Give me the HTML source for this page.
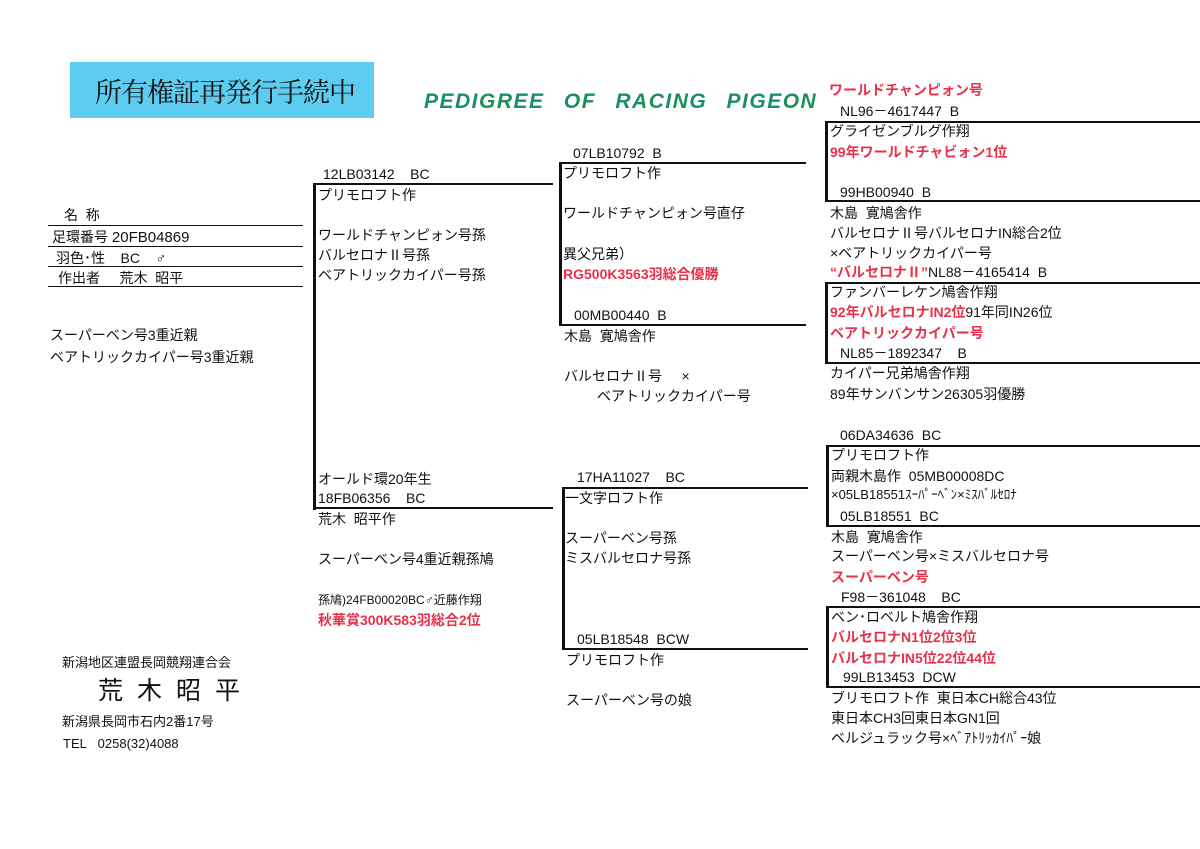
<!DOCTYPE html>
<html><head><meta charset="utf-8"><style>
body{margin:0;width:1200px;height:849px;background:#fff;position:relative;overflow:hidden;font-family:"Liberation Sans","Noto Sans CJK JP",sans-serif;color:#111;}
.t{position:absolute;font-size:14px;line-height:20px;white-space:nowrap;}
.r{color:#e8304a;font-weight:bold;}
.h{position:absolute;background:#111;height:2px;}
.v{position:absolute;background:#111;width:3px;}
.s{font-size:12px;}
</style></head><body>
<div style="position:absolute;left:70px;top:62px;width:304px;height:56px;background:#5ccdf0;"></div>
<div class="t" style="left:95px;top:73px;font-size:27px;line-height:36px;font-family:'Noto Serif CJK SC',serif;letter-spacing:-1px;">所有権証再発行手続中</div>
<div class="t" style="left:424px;top:90px;font-size:21px;line-height:24px;color:#1a9060;font-weight:bold;font-style:italic;letter-spacing:1.5px;word-spacing:12px;">PEDIGREE OF RACING PIGEON</div>

<div class="t" style="left:64px;top:205px;">名&nbsp;&nbsp;称</div>
<div class="h" style="left:48px;top:225px;width:255px;height:1px;"></div>
<div class="t" style="left:52px;top:227px;">足環番号 <span style="font-size:15px">20FB04869</span></div>
<div class="h" style="left:48px;top:246px;width:255px;height:1px;"></div>
<div class="t" style="left:56px;top:248px;">羽色･性&nbsp;&nbsp;&nbsp;&nbsp;BC&nbsp;&nbsp;&nbsp;&nbsp;♂</div>
<div class="h" style="left:48px;top:266px;width:255px;height:1px;"></div>
<div class="t" style="left:58px;top:268px;">作出者&nbsp;&nbsp;&nbsp;&nbsp;&nbsp;荒木&nbsp;&nbsp;昭平</div>
<div class="h" style="left:48px;top:286px;width:255px;height:1px;"></div>
<div class="t" style="left:50px;top:325px;">スーパーベン号3重近親</div>
<div class="t" style="left:50px;top:347px;">ベアトリックカイパー号3重近親</div>

<!-- gen1 -->
<div class="v" style="left:313px;top:183px;height:327px;"></div>
<div class="h" style="left:313px;top:183px;width:240px;"></div>
<div class="h" style="left:313px;top:507px;width:240px;"></div>
<div class="t" style="left:323px;top:164px;">12LB03142&nbsp;&nbsp;&nbsp;&nbsp;BC</div>
<div class="t" style="left:318px;top:185px;">プリモロフト作</div>
<div class="t" style="left:318px;top:225px;">ワールドチャンピォン号孫</div>
<div class="t" style="left:318px;top:245px;">バルセロナⅡ号孫</div>
<div class="t" style="left:318px;top:265px;">ベアトリックカイパー号孫</div>
<div class="t" style="left:318px;top:469px;">オールド環20年生</div>
<div class="t" style="left:318px;top:488px;">18FB06356&nbsp;&nbsp;&nbsp;&nbsp;BC</div>
<div class="t" style="left:318px;top:509px;">荒木&nbsp;&nbsp;昭平作</div>
<div class="t" style="left:318px;top:549px;">スーパーベン号4重近親孫鳩</div>
<div class="t s" style="left:318px;top:590px;">孫鳩)24FB00020BC♂近藤作翔</div>
<div class="t r" style="left:318px;top:610px;">秋華賞300K583羽総合2位</div>

<!-- gen2 top -->
<div class="v" style="left:559px;top:162px;height:164px;"></div>
<div class="h" style="left:559px;top:162px;width:247px;"></div>
<div class="h" style="left:559px;top:324px;width:247px;"></div>
<div class="t" style="left:573px;top:143px;">07LB10792&nbsp;&nbsp;B</div>
<div class="t" style="left:563px;top:163px;">プリモロフト作</div>
<div class="t" style="left:563px;top:203px;">ワールドチャンピォン号直仔</div>
<div class="t" style="left:563px;top:244px;">異父兄弟）</div>
<div class="t r" style="left:563px;top:264px;">RG500K3563羽総合優勝</div>
<div class="t" style="left:574px;top:305px;">00MB00440&nbsp;&nbsp;B</div>
<div class="t" style="left:564px;top:326px;">木島&nbsp;&nbsp;寛鳩舎作</div>
<div class="t" style="left:564px;top:366px;">バルセロナⅡ号&nbsp;&nbsp;&nbsp;&nbsp;&nbsp;×</div>
<div class="t" style="left:597px;top:386px;">ベアトリックカイパー号</div>

<!-- gen2 bottom -->
<div class="v" style="left:562px;top:487px;height:163px;"></div>
<div class="h" style="left:562px;top:487px;width:246px;"></div>
<div class="h" style="left:562px;top:648px;width:246px;"></div>
<div class="t" style="left:577px;top:467px;">17HA11027&nbsp;&nbsp;&nbsp;&nbsp;BC</div>
<div class="t" style="left:565px;top:488px;">一文字ロフト作</div>
<div class="t" style="left:565px;top:528px;">スーパーベン号孫</div>
<div class="t" style="left:565px;top:548px;">ミスバルセロナ号孫</div>
<div class="t" style="left:577px;top:629px;">05LB18548&nbsp;&nbsp;BCW</div>
<div class="t" style="left:566px;top:650px;">プリモロフト作</div>
<div class="t" style="left:566px;top:690px;">スーパーベン号の娘</div>

<!-- gen3 -->
<div class="t r" style="left:829px;top:80px;">ワールドチャンピォン号</div>
<div class="t" style="left:840px;top:101px;">NL96－4617447&nbsp;&nbsp;B</div>
<div class="v" style="left:825px;top:121px;height:81px;"></div>
<div class="h" style="left:825px;top:121px;width:375px;"></div>
<div class="h" style="left:825px;top:200px;width:375px;"></div>
<div class="t" style="left:830px;top:121px;">グライゼンブルグ作翔</div>
<div class="t r" style="left:830px;top:142px;">99年ワールドチャビォン1位</div>
<div class="t" style="left:840px;top:182px;">99HB00940&nbsp;&nbsp;B</div>
<div class="t" style="left:830px;top:203px;">木島&nbsp;&nbsp;寛鳩舎作</div>
<div class="t" style="left:830px;top:223px;">バルセロナⅡ号バルセロナIN総合2位</div>
<div class="t" style="left:830px;top:243px;">×ベアトリックカイパー号</div>
<div class="t" style="left:830px;top:262px;"><span class="r">“バルセロナⅡ”</span>NL88－4165414&nbsp;&nbsp;B</div>

<div class="v" style="left:825px;top:282px;height:82px;"></div>
<div class="h" style="left:825px;top:282px;width:375px;"></div>
<div class="h" style="left:825px;top:362px;width:375px;"></div>
<div class="t" style="left:830px;top:282px;">ファンバーレケン鳩舎作翔</div>
<div class="t" style="left:830px;top:302px;"><span class="r">92年バルセロナIN2位</span>91年同IN26位</div>
<div class="t r" style="left:830px;top:323px;">ベアトリックカイパー号</div>
<div class="t" style="left:840px;top:343px;">NL85－1892347&nbsp;&nbsp;&nbsp;&nbsp;B</div>
<div class="t" style="left:830px;top:363px;">カイパー兄弟鳩舎作翔</div>
<div class="t" style="left:830px;top:384px;">89年サンバンサン26305羽優勝</div>

<div class="t" style="left:840px;top:425px;">06DA34636&nbsp;&nbsp;BC</div>
<div class="v" style="left:826px;top:445px;height:82px;"></div>
<div class="h" style="left:826px;top:445px;width:374px;"></div>
<div class="h" style="left:826px;top:525px;width:374px;"></div>
<div class="t" style="left:831px;top:445px;">プリモロフト作</div>
<div class="t" style="left:831px;top:466px;">両親木島作&nbsp;&nbsp;05MB00008DC</div>
<div class="t" style="left:831px;top:485px;font-size:13px;">×05LB18551ｽｰﾊﾟｰﾍﾞﾝ×ﾐｽﾊﾞﾙｾﾛﾅ</div>
<div class="t" style="left:840px;top:506px;">05LB18551&nbsp;&nbsp;BC</div>
<div class="t" style="left:831px;top:527px;">木島&nbsp;&nbsp;寛鳩舎作</div>
<div class="t" style="left:831px;top:546px;">スーパーベン号×ミスバルセロナ号</div>
<div class="t r" style="left:831px;top:567px;">スーパーベン号</div>
<div class="t" style="left:841px;top:587px;">F98－361048&nbsp;&nbsp;&nbsp;&nbsp;BC</div>

<div class="v" style="left:826px;top:606px;height:82px;"></div>
<div class="h" style="left:826px;top:606px;width:374px;"></div>
<div class="h" style="left:826px;top:686px;width:374px;"></div>
<div class="t" style="left:831px;top:607px;">ベン･ロベルト鳩舎作翔</div>
<div class="t r" style="left:831px;top:627px;">バルセロナN1位2位3位</div>
<div class="t r" style="left:831px;top:648px;">バルセロナIN5位22位44位</div>
<div class="t" style="left:843px;top:667px;">99LB13453&nbsp;&nbsp;DCW</div>
<div class="t" style="left:831px;top:688px;">ブリモロフト作&nbsp;&nbsp;東日本CH総合43位</div>
<div class="t" style="left:831px;top:708px;">東日本CH3回東日本GN1回</div>
<div class="t" style="left:831px;top:728px;">ベルジュラック号×ﾍﾞｱﾄﾘｯｶｲﾊﾟｰ娘</div>

<!-- footer -->
<div class="t" style="left:62px;top:653px;font-size:13px;">新潟地区連盟長岡競翔連合会</div>
<div class="t" style="left:98px;top:676px;font-size:25px;line-height:30px;letter-spacing:14px;">荒木昭平</div>
<div class="t" style="left:62px;top:712px;font-size:13px;">新潟県長岡市石内2番17号</div>
<div class="t" style="left:63px;top:734px;font-size:13px;">TEL&nbsp;&nbsp;&nbsp;0258(32)4088</div>
</body></html>
